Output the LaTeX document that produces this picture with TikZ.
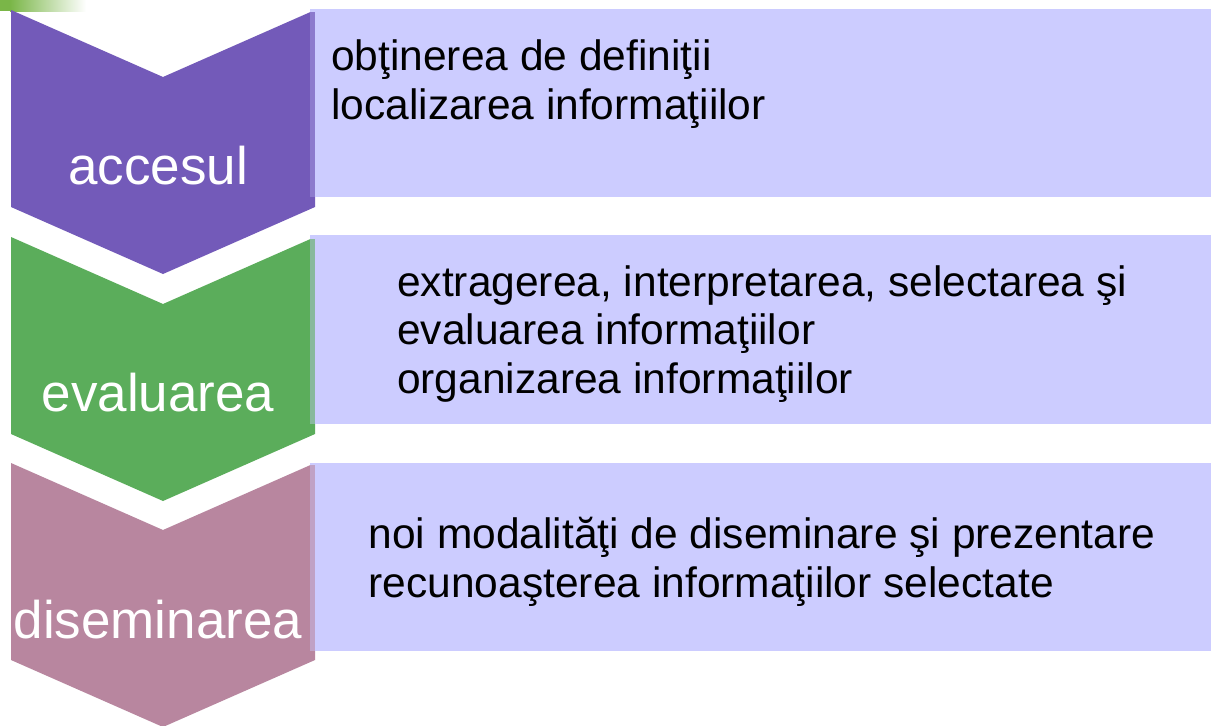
\documentclass[tikz,border=0pt]{standalone}
\usepackage{fontspec}
\setmainfont{Liberation Sans}
\definecolor{boxcol}{HTML}{CCCCFF}
\definecolor{cpurple}{HTML}{735AB9}
\definecolor{cgreen}{HTML}{5BAD5B}
\definecolor{cmauve}{HTML}{B8869F}
\definecolor{barg}{HTML}{7AB648}
\begin{document}
\begin{tikzpicture}[x=1pt,y=-1pt,
  infobox/.style={rectangle,draw=none,fill=boxcol,inner sep=0pt,anchor=north west,minimum width=901pt,minimum height=188.5pt},
  steplabel/.style={text=white,inner sep=0pt,anchor=base,font=\fontsize{53}{60}\selectfont},
  line/.style={text=black,inner sep=0pt,anchor=base west,font=\fontsize{42.5}{49}\selectfont}]
\useasboundingbox (0,0) rectangle (1211,726);
\fill[white] (0,0) rectangle (1211,726);
% top-left decoration
\fill[barg] (0,0) rectangle (10,11);
\shade[left color=barg,right color=white] (10,0) rectangle (86,11);
% chevrons
\foreach \t/\c in {10/cpurple,237/cgreen,463/cmauve}{
  \fill[\c] (11,\t) -- (163,{\t+67}) -- (315,\t) -- (315,{\t+197}) -- (163,{\t+264}) -- (11,{\t+197}) -- cycle;
}
% boxes
\node[infobox] (b1) at (310,8.5) {};
\node[infobox] (b2) at (310,235) {};
\node[infobox] (b3) at (310,462.5) {};
% overlap strips
\fill[cpurple!72!boxcol] (310,12) rectangle (315,197);
\fill[cgreen!60!boxcol] (310,239) rectangle (315,423.5);
\fill[cmauve!60!boxcol] (310,465) rectangle (315,651);
% step labels
\node[steplabel] (l1) at (158,184) {accesul};
\node[steplabel] (l2) at (158,411) {evaluarea};
\node[steplabel] (l3) at (158,638) {diseminarea};
% box texts
\node[line] (t1a) at (331,70) {obţinerea de definiţii};
\node[line] (t1b) at (331,119) {localizarea informaţiilor};
\node[line] (t2a) at (397,296) {extragerea, interpretarea, selectarea şi};
\node[line] (t2b) at (397,344.5) {evaluarea informaţiilor};
\node[line] (t2c) at (397,393) {organizarea informaţiilor};
\node[line] (t3a) at (368.5,548) {noi modalităţi de diseminare şi prezentare};
\node[line] (t3b) at (368.5,597) {recunoaşterea informaţiilor selectate};
\end{tikzpicture}
\end{document}
